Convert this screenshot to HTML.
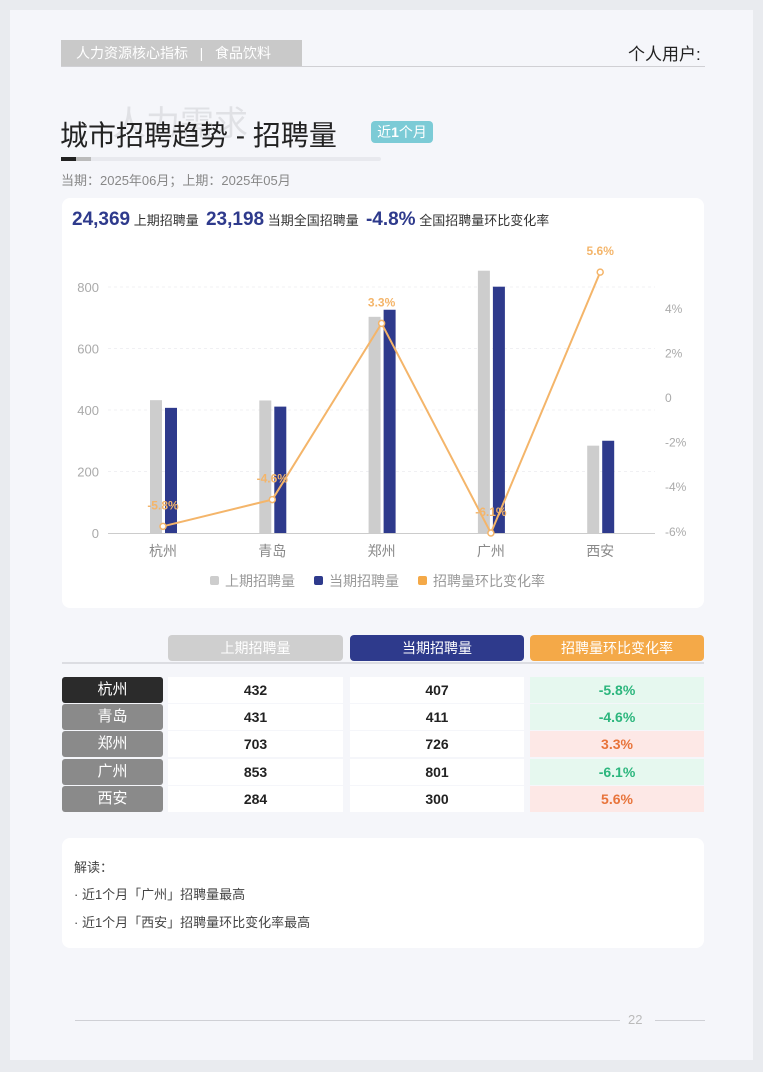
<!DOCTYPE html>
<html><head><meta charset="utf-8">
<style>
*{margin:0;padding:0;box-sizing:border-box}
body{width:763px;height:1072px;background:#e9ebef;font-family:"Liberation Sans","Noto Sans CJK SC",sans-serif;position:relative;overflow:hidden}
.page{position:absolute;left:10px;top:10px;width:743px;height:1050px;background:#f5f6fa}
.abs{position:absolute}
.card{position:absolute;background:#fff;border-radius:8px}
.th{position:absolute;top:635px;height:26px;border-radius:4px;color:#fff;font-size:14px;text-align:center;line-height:26px}
.cell{position:absolute;height:26px;line-height:26px;text-align:center;font-size:14px;font-weight:bold;color:#222}
.nm{position:absolute;left:62px;width:101px;height:26px;line-height:26px;text-align:center;color:#fff;font-size:15px;background:#8a8a8a;border-radius:3px}
</style></head><body>
<div class="page"></div>
<div class="abs" style="left:61px;top:40px;width:241px;height:26px;background:#c9c9c9;color:#fff;font-size:14px;line-height:26px;padding-left:15px">人力资源核心指标 &nbsp;&nbsp;|&nbsp;&nbsp; 食品饮料</div>
<div class="abs" style="left:61px;top:66px;width:644px;height:1px;background:#d0d0d4"></div>
<div class="abs" style="left:628px;top:40px;font-size:17px;color:#222">个人用户:</div>
<div class="abs" style="left:112px;top:96px;font-size:34px;color:#e0e1e5">人力需求</div>
<div class="abs" style="left:60px;top:114px;font-size:28px;color:#222">城市招聘趋势 - 招聘量</div>
<div class="abs" style="left:371px;top:121px;width:62px;height:22px;background:#7ccbd6;color:#fff;border-radius:4px;font-size:14px;line-height:22px;text-align:center">近<b>1</b>个月</div>
<div class="abs" style="left:61px;top:157px;width:320px;height:4px;background:#e8e9ee;border-radius:2px"></div>
<div class="abs" style="left:61px;top:157px;width:15px;height:4px;background:#222"></div>
<div class="abs" style="left:76px;top:157px;width:15px;height:4px;background:#bbb"></div>
<div class="abs" style="left:61px;top:170px;font-size:13px;color:#888">当期：2025年06月；上期：2025年05月</div>

<div class="card" style="left:62px;top:198px;width:642px;height:410px"></div>
<div class="abs" style="left:72px;top:209px;font-size:13px;color:#333;white-space:nowrap">
<b style="font-size:19px;color:#2e3a8c">24,369</b> 上期招聘量 &nbsp;<b style="font-size:19px;color:#2e3a8c">23,198</b> 当期全国招聘量 &nbsp;<b style="font-size:19px;color:#2e3a8c">-4.8%</b> 全国招聘量环比变化率</div>

<svg id="chart" class="abs" style="left:0;top:0" width="763" height="620"></svg>

<div class="abs" style="left:62px;top:662px;width:642px;height:2px;background:#dcdde2"></div>
<div class="th" style="left:168px;width:175px;background:#cfcfcf">上期招聘量</div>
<div class="th" style="left:350px;width:174px;background:#2e3a8c">当期招聘量</div>
<div class="th" style="left:530px;width:174px;background:#f4a948">招聘量环比变化率</div>
<div id="tbl"></div>

<div class="card" style="left:62px;top:838px;width:642px;height:110px;padding:20px 12px;font-size:13px;color:#444;line-height:29px">
<div style="line-height:20px;margin-bottom:6px">解读：</div>
<div style="line-height:22px;margin-bottom:6px">· 近1个月「广州」招聘量最高</div>
<div style="line-height:22px">· 近1个月「西安」招聘量环比变化率最高</div>
</div>
<div class="abs" style="left:75px;top:1020px;width:545px;height:1px;background:#cfd0d5"></div>
<div class="abs" style="left:628px;top:1012px;font-size:13px;color:#bbb">22</div>
<div class="abs" style="left:655px;top:1020px;width:50px;height:1px;background:#cfd0d5"></div>

<script>
const cities=["杭州","青岛","郑州","广州","西安"];
const prevVals=[432,431,703,853,284];
const currVals=[407,411,726,801,300];
const rateVals=[-5.8,-4.6,3.3,-6.1,5.6];
const leftTicks=[0,200,400,600,800];
const rightTicks=[-6,-4,-2,0,2,4];
const NS="http://www.w3.org/2000/svg";
const svg=document.getElementById('chart');
const yL=v=>533-v*246/800;
const yR=v=>397-v*22.3;
const xC=i=>163+i*109.3;
function el(t,a,txt){const e=document.createElementNS(NS,t);for(const k in a)e.setAttribute(k,a[k]);if(txt!==undefined)e.textContent=txt;svg.appendChild(e);return e;}
leftTicks.forEach(t=>{
 if(t>0){const g=el('line',{x1:108,x2:655,y1:yL(t),y2:yL(t),stroke:'#f0f0f3','stroke-dasharray':'3,3'});}
 const l=el('text',{x:99,y:yL(t)+5,'text-anchor':'end','font-size':13,fill:'#aaa'},t);
 
 
});
rightTicks.forEach(t=>{
 const l=el('text',{x:665,y:yR(t)+5,'font-size':12,fill:'#aaa'},t===0?'0':t+'%');
 
 
});
const ax=el('line',{x1:108,x2:655,y1:533.5,y2:533.5,stroke:'#ccc'});


cities.forEach((c,i)=>{
 const b1=el('rect',{x:xC(i)-13,y:yL(prevVals[i]),width:12,height:533-yL(prevVals[i]),fill:'#cdcdcd'});
 
 
 const b2=el('rect',{x:xC(i)+2,y:yL(currVals[i]),width:12,height:533-yL(currVals[i]),fill:'#2e3a8c'});
 
 
 const l=el('text',{x:xC(i),y:556,'text-anchor':'middle','font-size':14,fill:'#888'},c);
 
 
});
const pl=el('polyline',{points:rateVals.map((v,i)=>xC(i)+','+yR(v)).join(' '),fill:'none',stroke:'#f4b56a','stroke-width':2});


rateVals.forEach((v,i)=>{
 const p=el('circle',{cx:xC(i),cy:yR(v),r:3,fill:'#fff',stroke:'#f4b56a','stroke-width':1.5});
 
 
 const t=el('text',{x:xC(i),y:yR(v)-17,'text-anchor':'middle','font-size':12,'font-weight':'bold',fill:'#f4b56a'},v.toFixed(1)+'%');
 
 
});
[['上期招聘量','#cdcdcd',210],['当期招聘量','#2e3a8c',314],['招聘量环比变化率','#f4a948',418]].forEach(l=>{
 const r=el('rect',{x:l[2],y:576,width:9,height:9,rx:2,fill:l[1]});
 
 
 const t=el('text',{x:l[2]+15,y:586,'font-size':14,fill:'#999'},l[0]);
 
 
});
const tbl=document.getElementById('tbl');
cities.forEach((c,i)=>{
 const top=677+i*27.2;
 const n=document.createElement('div');n.className='nm';n.style.top=top+'px';n.textContent=c;
 if(i===0)n.style.background='#2b2b2b';
 
 
 tbl.appendChild(n);
 [[168,175,prevVals[i],'#fff','#222'],[350,174,currVals[i],'#fff','#222'],[530,174,rateVals[i].toFixed(1)+'%',rateVals[i]<0?'#e6f8ef':'#fde8e6',rateVals[i]<0?'#2cb67d':'#e8743b']].forEach(d=>{
  const e=document.createElement('div');e.className='cell';
  e.style.cssText+=`left:${d[0]}px;width:${d[1]}px;top:${top}px;background:${d[3]};color:${d[4]}`;
  e.textContent=d[2];
  
  
  tbl.appendChild(e);
 });
});
</script>
</body></html>
